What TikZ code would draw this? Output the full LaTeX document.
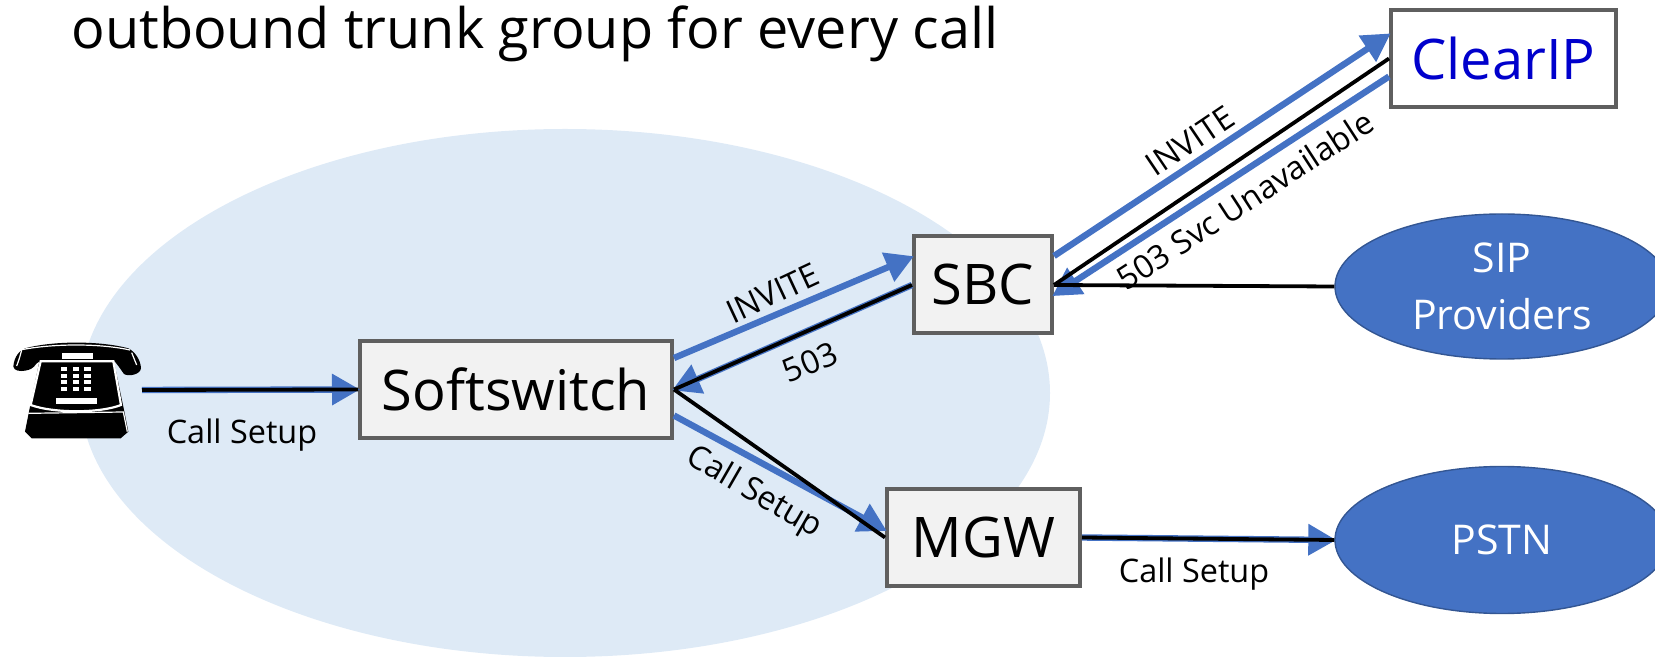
\documentclass[tikz,border=0pt]{standalone}
\usepackage{fontspec}
\setmainfont{Open Sans}
\usetikzlibrary{arrows.meta,shapes.geometric,calc}
\definecolor{oblue}{HTML}{4472C4}
\definecolor{lblue}{HTML}{DEEAF6}
\definecolor{boxedge}{HTML}{5F5F5F}
\definecolor{boxfill}{HTML}{F2F2F2}
\definecolor{cip}{HTML}{0000CC}
\tikzset{
  x=0.5pt,y=-0.5pt,
  boxnode/.style={draw=boxedge,line width=2pt,fill=boxfill,inner sep=0pt,minimum height=48.5pt,font=\fontsize{28}{32}\selectfont},
  cloudnode/.style={ellipse,draw=oblue!75!black,line width=0.7pt,fill=oblue,text=white,inner sep=0pt,align=center,font=\fontsize{20.5}{28.5}\selectfont},
  bluearrow/.style={draw=oblue,line width=3.2pt,-{Triangle[length=14pt,width=15pt]},shorten >=-1pt},
  blackline/.style={draw=black,line width=1.9pt},
  msg/.style={font=\fontsize{16.2}{19}\selectfont,inner sep=0pt},
}
\begin{document}
\begin{tikzpicture}
\useasboundingbox (0,0) rectangle (1655,657);
\clip (0,0) rectangle (1655,657);
\fill[lblue] (565,393) ellipse [x radius=485,y radius=264];
\node[inner sep=0pt,anchor=base west,font=\fontsize{27.9}{32}\selectfont] (title) at (71,49) {outbound trunk group for every call};
% phone
\begin{scope}[shift={(0,300)},scale=1/3]
\fill[black] (40,200) .. controls (42,170) and (60,150) .. (75,145) .. controls (160,122) and (300,122) .. (385,145) .. controls (405,155) and (422,180) .. (423,205) .. controls (420,225) and (385,230) .. (372,222) .. controls (360,205) and (350,190) .. (340,180) -- (345,200) -- (370,320) -- (385,395) -- (362,415) -- (95,415) -- (75,395) -- (90,320) -- (118,185) -- (110,190) .. controls (100,205) and (90,210) .. (75,212) .. controls (60,215) and (42,212) .. (40,200) -- cycle;
\fill[white] (185,160) rectangle (280,178);
\draw[white,line width=1.1pt] (122,184) -- (340,184) -- (363,315) .. controls (300,340) and (160,340) .. (92,315) -- cycle;
\draw[white,line width=0.6pt] (85,340) -- (370,336) -- (382,395);
\draw[white,line width=0.6pt] (65,150) .. controls (60,170) and (55,185) .. (50,198);
\draw[white,line width=0.6pt] (395,158) -- (410,195);
\draw[white,line width=0.6pt] (60,150) .. controls (160,130) and (300,130) .. (390,150);
\foreach \c in {192,228,263}{\foreach \r in {207,227,247,267}{\fill[white] (\c-10,\r-6) rectangle (\c+10,\r+6);}}
\fill[white] (167,294) rectangle (290,313);
\end{scope}
\coordinate (phone) at (142,390);
% nodes
\node[boxnode,minimum width=156pt] (soft) at (516,389.5) {Softswitch};
\node[boxnode,minimum width=69pt] (sbc) at (983,285) {SBC};
\node[boxnode,minimum width=96.5pt] (mgw) at (983.5,537.5) {MGW};
\node[boxnode,minimum width=112.5pt,fill=white,text=cip] (clear) at (1503.5,58.5) {ClearIP};
\node[cloudnode,minimum width=167pt,minimum height=72.5pt] (sip) at (1502,286.5) {SIP\\Providers};
\node[cloudnode,minimum width=167pt,minimum height=73.5pt] (pstn) at (1502,540) {PSTN};
% connectors
\draw[bluearrow] (phone) -- (soft.west);
\draw[blackline] (phone) -- (soft.west);
\draw[bluearrow] ([yshift=15.75pt]soft.east) -- ([yshift=14pt]sbc.west);
\draw[bluearrow] (sbc.west) -- (soft.east);
\draw[blackline] (sbc.west) -- (soft.east);
\draw[bluearrow] ([yshift=-13pt]soft.east) -- ([yshift=3.75pt]mgw.west);
\draw[blackline] (soft.east) -- (mgw.west);
\draw[bluearrow] ([yshift=14.5pt]sbc.east) -- ([yshift=12pt]clear.west);
\draw[bluearrow] ([yshift=-9pt]clear.west) -- ([yshift=-5pt]sbc.east);
\draw[blackline] (clear.west) -- (sbc.east);
\draw[blackline] (sip.west) -- (sbc.east);
\draw[bluearrow] (mgw.east) -- (pstn.west);
\draw[blackline] (mgw.east) -- (pstn.west);
% labels
\node[msg] (l1) at (242,435) {Call Setup};
\node[msg,rotate=25] (l2) at (773,293) {INVITE};
\node[msg,rotate=23] (l3) at (810,362) {503};
\node[msg,rotate=-30] (l4) at (754,493) {Call Setup};
\node[msg] (l5) at (1194,574) {Call Setup};
\node[msg,rotate=34] (l6) at (1190,141) {INVITE};
\node[msg,rotate=33] (l7) at (1245,200) {503 Svc Unavailable};
\end{tikzpicture}
\end{document}
